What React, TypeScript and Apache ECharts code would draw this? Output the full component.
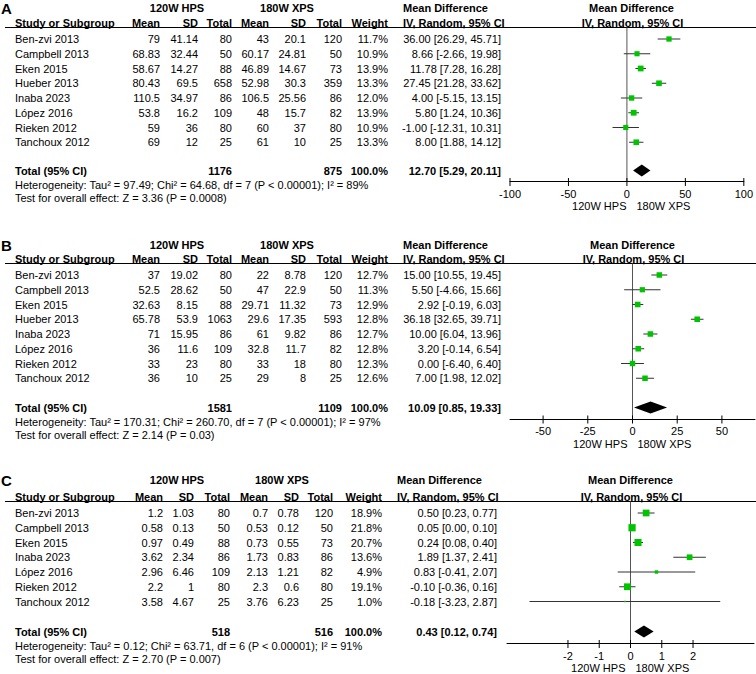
import React, { useEffect, useRef } from "react";
import * as echarts from "echarts";

const FONT = "'Liberation Sans', Arial, Helvetica, sans-serif";
const ROW = 14.75;

// ---------- Panel A ----------
const studiesA = ["Ben-zvi 2013", "Campbell 2013", "Eken 2015", "Hueber 2013", "Inaba 2023", "López 2016", "Rieken 2012", "Tanchoux 2012"];
const hpsMeanA = [79, 68.83, 58.67, 80.43, 110.5, 53.8, 59, 69];
const hpsSdA = [41.14, 32.44, 14.27, 69.5, 34.97, 16.2, 36, 12];
const hpsTotalA = [80, 50, 88, 658, 86, 109, 80, 25];
const xpsMeanA = [43, 60.17, 46.89, 52.98, 106.5, 48, 60, 61];
const xpsSdA = [20.1, 24.81, 14.67, 30.3, 25.56, 15.7, 37, 10];
const xpsTotalA = [120, 50, 73, 359, 86, 82, 80, 25];
const weightA = [11.7, 10.9, 13.9, 13.3, 12.0, 13.9, 10.9, 13.3];
const mdA = [36.0, 8.66, 11.78, 27.45, 4.0, 5.8, -1.0, 8.0];
const loA = [26.29, -2.66, 7.28, 21.28, -5.15, 1.24, -12.31, 1.88];
const hiA = [45.71, 19.98, 16.28, 33.62, 13.15, 10.36, 10.31, 14.12];
const totalA = { n1: 1176, n2: 875, md: 12.7, lo: 5.29, hi: 20.11 };
const hetA = "Heterogeneity: Tau² = 97.49; Chi² = 64.68, df = 7 (P < 0.00001); I² = 89%";
const testA = "Test for overall effect: Z = 3.36 (P = 0.0008)";
const ticksA = [-100, -50, 0, 50, 100];

// ---------- Panel B ----------
const studiesB = ["Ben-zvi 2013", "Campbell 2013", "Eken 2015", "Hueber 2013", "Inaba 2023", "López 2016", "Rieken 2012", "Tanchoux 2012"];
const hpsMeanB = [37, 52.5, 32.63, 65.78, 71, 36, 33, 36];
const hpsSdB = [19.02, 28.62, 8.15, 53.9, 15.95, 11.6, 23, 10];
const hpsTotalB = [80, 50, 88, 1063, 86, 109, 80, 25];
const xpsMeanB = [22, 47, 29.71, 29.6, 61, 32.8, 33, 29];
const xpsSdB = [8.78, 22.9, 11.32, 17.35, 9.82, 11.7, 18, 8];
const xpsTotalB = [120, 50, 73, 593, 86, 82, 80, 25];
const weightB = [12.7, 11.3, 12.9, 12.8, 12.7, 12.8, 12.3, 12.6];
const mdB = [15.0, 5.5, 2.92, 36.18, 10.0, 3.2, 0.0, 7.0];
const loB = [10.55, -4.66, -0.19, 32.65, 6.04, -0.14, -6.4, 1.98];
const hiB = [19.45, 15.66, 6.03, 39.71, 13.96, 6.54, 6.4, 12.02];
const totalB = { n1: 1581, n2: 1109, md: 10.09, lo: 0.85, hi: 19.33 };
const hetB = "Heterogeneity: Tau² = 170.31; Chi² = 260.70, df = 7 (P < 0.00001); I² = 97%";
const testB = "Test for overall effect: Z = 2.14 (P = 0.03)";
const ticksB = [-50, -25, 0, 25, 50];

// ---------- Panel C ----------
const studiesC = ["Ben-zvi 2013", "Campbell 2013", "Eken 2015", "Inaba 2023", "López 2016", "Rieken 2012", "Tanchoux 2012"];
const hpsMeanC = [1.2, 0.58, 0.97, 3.62, 2.96, 2.2, 3.58];
const hpsSdC = [1.03, 0.13, 0.49, 2.34, 6.46, 1, 4.67];
const hpsTotalC = [80, 50, 88, 86, 109, 80, 25];
const xpsMeanC = [0.7, 0.53, 0.73, 1.73, 2.13, 2.3, 3.76];
const xpsSdC = [0.78, 0.12, 0.55, 0.83, 1.21, 0.6, 6.23];
const xpsTotalC = [120, 50, 73, 86, 82, 80, 25];
const weightC = [18.9, 21.8, 20.7, 13.6, 4.9, 19.1, 1.0];
const mdC = [0.5, 0.05, 0.24, 1.89, 0.83, -0.1, -0.18];
const loC = [0.23, 0.0, 0.08, 1.37, -0.41, -0.36, -3.23];
const hiC = [0.77, 0.1, 0.4, 2.41, 2.07, 0.16, 2.87];
const totalC = { n1: 518, n2: 516, md: 0.43, lo: 0.12, hi: 0.74 };
const hetC = "Heterogeneity: Tau² = 0.12; Chi² = 63.71, df = 6 (P < 0.00001); I² = 91%";
const testC = "Test for overall effect: Z = 2.70 (P = 0.007)";
const ticksC = [-2, -1, 0, 1, 2];

const groupLeft = "120W HPS";
const groupRight = "180W XPS";

type Panel = {
  label: string;
  studies: string[];
  cols: (string | number)[][];
  weight: number[];
  md: number[];
  lo: number[];
  hi: number[];
  total: { n1: number; n2: number; md: number; lo: number; hi: number };
  het: string;
  test: string;
  ticks: number[];
  L: {
    head1Y: number;
    firstY: number;
    totalY: number;
    axisY: number;
    colRight: number[];
    ciRight: number;
    mdLeft: number;
    hpsCenter: number;
    xpsCenter: number;
    plotLeft: number;
    plotWidth: number;
    min: number;
    max: number;
  };
};

const panels: Panel[] = [
  {
    label: "A",
    studies: studiesA,
    cols: [hpsMeanA, hpsSdA, hpsTotalA, xpsMeanA, xpsSdA, xpsTotalA],
    weight: weightA, md: mdA, lo: loA, hi: hiA, total: totalA, het: hetA, test: testA, ticks: ticksA,
    L: { head1Y: 8, firstY: 39, totalY: 170.5, axisY: 181.5, colRight: [160, 198, 232, 269, 306, 342, 388], ciRight: 501, mdLeft: 403, hpsCenter: 177, xpsCenter: 287, plotLeft: 510, plotWidth: 243, min: -100, max: 100 },
  },
  {
    label: "B",
    studies: studiesB,
    cols: [hpsMeanB, hpsSdB, hpsTotalB, xpsMeanB, xpsSdB, xpsTotalB],
    weight: weightB, md: mdB, lo: loB, hi: hiB, total: totalB, het: hetB, test: testB, ticks: ticksB,
    L: { head1Y: 245, firstY: 275, totalY: 407.5, axisY: 419, colRight: [160, 198, 232, 269, 306, 342, 388], ciRight: 501, mdLeft: 403, hpsCenter: 177, xpsCenter: 287, plotLeft: 510, plotWidth: 245, min: -68.5, max: 68.5 },
  },
  {
    label: "C",
    studies: studiesC,
    cols: [hpsMeanC, hpsSdC, hpsTotalC, xpsMeanC, xpsSdC, xpsTotalC],
    weight: weightC, md: mdC, lo: loC, hi: hiC, total: totalC, het: hetC, test: testC, ticks: ticksC,
    L: { head1Y: 480, firstY: 513, totalY: 631.5, axisY: 643.5, colRight: [163, 194, 230, 268, 299, 333, 382], ciRight: 497, mdLeft: 397, hpsCenter: 177, xpsCenter: 282, plotLeft: 507, plotWidth: 247, min: -3.95, max: 3.95 },
  },
];

function txt(text: string, x: number, y: number, align: string, bold = false, size = 11): any {
  return {
    type: "text",
    x,
    y,
    silent: true,
    style: {
      text,
      fill: "#000",
      fontFamily: FONT,
      fontSize: size,
      fontWeight: bold ? "bold" : "normal",
      textAlign: align,
      textVerticalAlign: "middle",
    },
  };
}

function buildOption() {
  const graphics: any[] = [];
  const grids: any[] = [];
  const xAxes: any[] = [];
  const yAxes: any[] = [];
  const series: any[] = [];

  panels.forEach((p, pi) => {
    const L = p.L;
    const lineY = L.firstY - 11.5;
    const head2Y = L.firstY - 16.5;
    const zeroX = L.plotLeft + ((0 - L.min) / (L.max - L.min)) * L.plotWidth;
    const yMin = (lineY - L.firstY) / ROW;
    const yMax = (L.axisY - L.firstY) / ROW;
    const totalIdx = (L.totalY - L.firstY) / ROW;

    graphics.push(txt(p.label, 1, L.head1Y, "left", true, 15));
    graphics.push(txt(groupLeft, L.hpsCenter, L.head1Y, "center", true));
    graphics.push(txt(groupRight, L.xpsCenter, L.head1Y, "center", true));
    graphics.push(txt("Mean Difference", L.mdLeft, L.head1Y, "left", true));
    graphics.push(txt("Mean Difference", zeroX, L.head1Y, "center", true));
    graphics.push(txt("Study or Subgroup", 15, head2Y, "left", true));
    const heads = ["Mean", "SD", "Total", "Mean", "SD", "Total", "Weight"];
    heads.forEach((h, i) => graphics.push(txt(h, L.colRight[i], head2Y, "right", true)));
    graphics.push(txt("IV, Random, 95% CI", L.mdLeft, head2Y, "left", true));
    graphics.push(txt("IV, Random, 95% CI", zeroX + 1, head2Y, "center", true));
    graphics.push({
      type: "line",
      silent: true,
      shape: { x1: 5, y1: lineY, x2: 756, y2: lineY },
      style: { stroke: "#000", lineWidth: 1 },
    });

    p.studies.forEach((s, r) => {
      const y = L.firstY + r * ROW;
      graphics.push(txt(s, 15, y, "left"));
      p.cols.forEach((col, ci) => graphics.push(txt(String(col[r]), L.colRight[ci], y, "right")));
      graphics.push(txt(p.weight[r].toFixed(1) + "%", L.colRight[6], y, "right"));
      graphics.push(
        txt(`${p.md[r].toFixed(2)} [${p.lo[r].toFixed(2)}, ${p.hi[r].toFixed(2)}]`, L.ciRight, y, "right")
      );
    });

    graphics.push(txt("Total (95% CI)", 15, L.totalY, "left", true));
    graphics.push(txt(String(p.total.n1), L.colRight[2], L.totalY, "right", true));
    graphics.push(txt(String(p.total.n2), L.colRight[5], L.totalY, "right", true));
    graphics.push(txt("100.0%", L.colRight[6], L.totalY, "right", true));
    graphics.push(
      txt(`${p.total.md.toFixed(2)} [${p.total.lo.toFixed(2)}, ${p.total.hi.toFixed(2)}]`, L.ciRight, L.totalY, "right", true)
    );
    graphics.push(txt(p.het, 15, L.totalY + 14, "left"));
    graphics.push(txt(p.test, 15, L.totalY + 27.5, "left"));

    graphics.push(txt(groupLeft, zeroX - 5, L.axisY + 24.5, "right"));
    graphics.push(txt(groupRight, zeroX + 5, L.axisY + 24.5, "left"));

    grids.push({
      left: L.plotLeft,
      width: L.plotWidth,
      top: lineY,
      height: L.axisY - lineY,
      containLabel: false,
    });
    xAxes.push({
      type: "value",
      gridIndex: pi,
      min: L.min,
      max: L.max,
      position: "bottom",
      splitLine: { show: false },
      axisLine: { show: true, onZero: false, lineStyle: { color: "#000", width: 1 } },
      axisTick: { show: false },
      axisLabel: {
        show: true,
        customValues: p.ticks,
        margin: 6.5,
        color: "#000",
        fontFamily: FONT,
        fontSize: 11,
        formatter: (v: number) => String(v),
      },
    });
    yAxes.push({
      type: "value",
      gridIndex: pi,
      inverse: true,
      min: yMin,
      max: yMax,
      show: false,
    });

    // zero line
    series.push({
      type: "custom",
      xAxisIndex: pi,
      yAxisIndex: pi,
      silent: true,
      data: [[0, yMin, yMax]],
      renderItem: (_params: any, api: any) => {
        const a = api.coord([api.value(0), api.value(1)]);
        const b = api.coord([api.value(0), api.value(2)]);
        return {
          type: "line",
          shape: { x1: a[0], y1: a[1], x2: b[0], y2: b[1] },
          style: { stroke: "#555", lineWidth: 1 },
        };
      },
    });

    // axis ticks crossing the axis line
    series.push({
      type: "custom",
      xAxisIndex: pi,
      yAxisIndex: pi,
      silent: true,
      clip: false,
      data: p.ticks.map((t) => [t, yMax]),
      renderItem: (_params: any, api: any) => {
        const a = api.coord([api.value(0), api.value(1)]);
        return {
          type: "line",
          shape: { x1: a[0], y1: a[1] - 3.5, x2: a[0], y2: a[1] + 4.5 },
          style: { stroke: "#000", lineWidth: 1 },
        };
      },
    });

    // CI lines + squares
    series.push({
      type: "custom",
      xAxisIndex: pi,
      yAxisIndex: pi,
      silent: true,
      data: p.md.map((m, r) => [m, r, p.lo[r], p.hi[r], p.weight[r]]),
      renderItem: (_params: any, api: any) => {
        const idx = api.value(1);
        const pm = api.coord([api.value(0), idx]);
        const pl = api.coord([api.value(2), idx]);
        const ph = api.coord([api.value(3), idx]);
        const s = 1.55 * Math.sqrt(api.value(4));
        return {
          type: "group",
          children: [
            {
              type: "line",
              shape: { x1: pl[0], y1: pl[1], x2: ph[0], y2: ph[1] },
              style: { stroke: "#333", lineWidth: 1 },
            },
            {
              type: "rect",
              shape: { x: pm[0] - s / 2, y: pm[1] - s / 2, width: s, height: s },
              style: { fill: "#00c400" },
            },
          ],
        };
      },
    });

    // diamond
    series.push({
      type: "custom",
      xAxisIndex: pi,
      yAxisIndex: pi,
      silent: true,
      data: [[p.total.md, totalIdx, p.total.lo, p.total.hi]],
      renderItem: (_params: any, api: any) => {
        const idx = api.value(1);
        const pm = api.coord([api.value(0), idx]);
        const pl = api.coord([api.value(2), idx]);
        const ph = api.coord([api.value(3), idx]);
        const h = 6;
        return {
          type: "polygon",
          shape: {
            points: [
              [pl[0], pl[1]],
              [pm[0], pm[1] - h],
              [ph[0], ph[1]],
              [pm[0], pm[1] + h],
            ],
          },
          style: { fill: "#000" },
        };
      },
    });
  });

  return {
    animation: false,
    backgroundColor: "#fff",
    grid: grids,
    xAxis: xAxes,
    yAxis: yAxes,
    series,
    graphic: graphics,
  };
}

export default function App() {
  const ref = useRef<HTMLDivElement>(null);
  useEffect(() => {
    if (!ref.current) return;
    const chart = echarts.init(ref.current, undefined, { renderer: "svg" });
    chart.setOption(buildOption() as any);
    return () => chart.dispose();
  }, []);
  return (
    <div
      ref={ref}
      style={{ position: "fixed", left: 0, top: 0, width: 756, height: 674, background: "#fff" }}
    />
  );
}
